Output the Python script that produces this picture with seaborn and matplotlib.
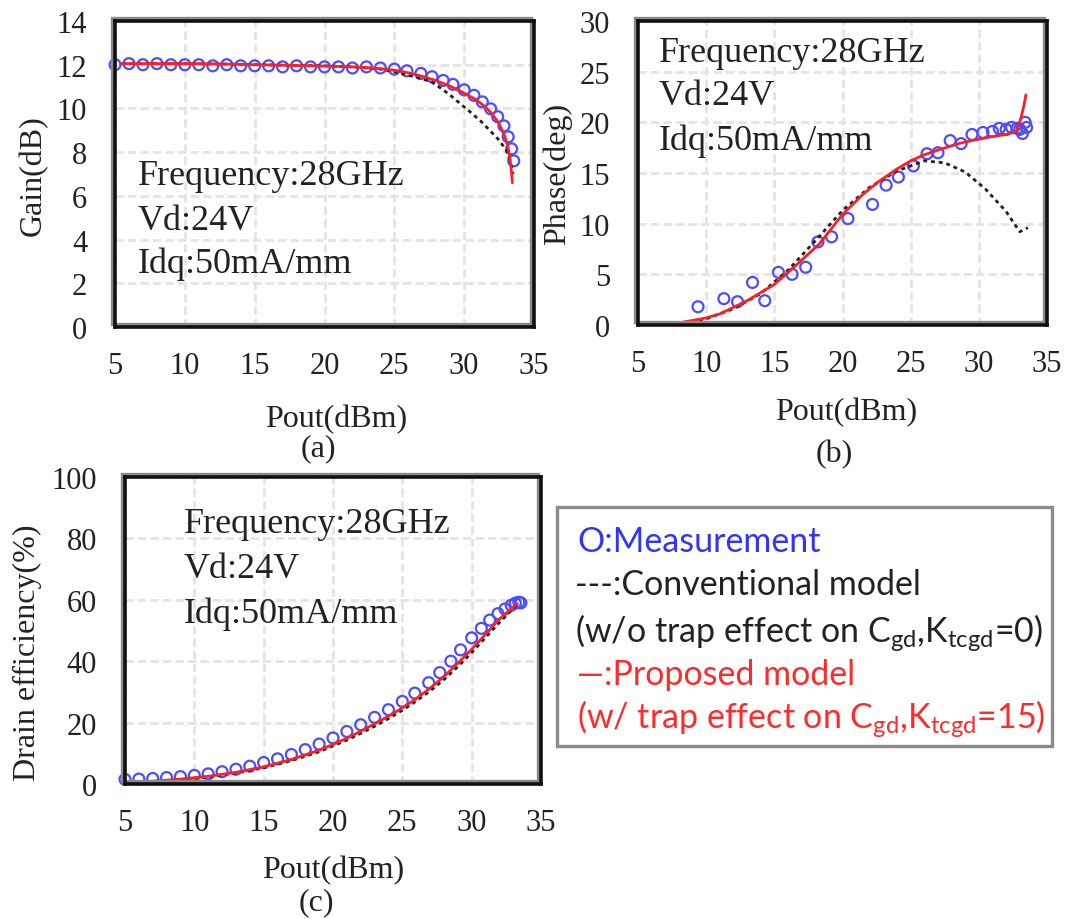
import numpy as np
import matplotlib
matplotlib.use("Agg")
import matplotlib.pyplot as plt
import matplotlib.transforms as mtransforms
from matplotlib.patches import Rectangle
import seaborn as sns

# ---------------- data ----------------
# Measured points (output power sweep, dBm)
meas_pout = [5.0, 6.0, 7.0, 8.0, 9.0, 10.0, 11.0, 12.0, 13.0, 14.0, 15.0, 16.0,
             17.0, 18.0, 19.0, 20.0, 21.0, 22.0, 23.0, 24.0, 25.0, 25.9, 26.9,
             27.7, 28.5, 29.2, 30.0, 30.7, 31.3, 31.9, 32.4, 32.85, 33.15, 33.4, 33.55]
meas_gain = [12.0, 12.05, 12.0, 12.05, 12.0, 12.0, 12.0, 11.95, 12.0, 11.95, 11.95,
             11.95, 11.9, 11.95, 11.9, 11.9, 11.9, 11.85, 11.9, 11.85, 11.8, 11.72,
             11.6, 11.45, 11.28, 11.1, 10.85, 10.6, 10.3, 9.98, 9.62, 9.2, 8.7, 8.15, 7.6]
meas_eff = [1.5, 1.6, 1.8, 2.1, 2.4, 2.8, 3.3, 4.0, 4.8, 5.8, 7.0, 8.2, 9.6, 11.2,
            13.0, 15.0, 17.1, 19.3, 21.7, 24.2, 26.9, 29.6, 33.0, 36.3, 40.0, 43.7,
            47.6, 50.7, 53.4, 55.5, 57.0, 58.2, 58.9, 59.2, 59.0]

phase_meas_pout = [9.4, 11.3, 12.3, 13.4, 14.3, 15.3, 16.3, 17.3, 18.2, 19.2, 20.4,
                   22.2, 23.2, 24.1, 25.2, 26.2, 27.0, 27.9, 28.7, 29.5, 30.3, 31.0,
                   31.5, 32.0, 32.4, 32.8, 33.0, 33.2, 33.4, 33.5]
phase_meas = [1.8, 2.6, 2.3, 4.2, 2.4, 5.2, 5.0, 5.7, 8.2, 8.7, 10.5, 11.9, 13.8,
              14.6, 15.7, 16.9, 17.0, 18.2, 17.9, 18.8, 19.0, 19.1, 19.4, 19.3,
              19.5, 19.4, 19.3, 18.9, 20.0, 19.5]

# Proposed model (w/ trap effect on Cgd)
prop_gain_pout = [5.5, 7, 9, 11, 13, 15, 17, 19, 21, 22, 23, 24, 25, 26, 27, 28, 29,
                  30, 30.8, 31.5, 32, 32.5, 32.9, 33.15, 33.3, 33.4, 33.45]
prop_gain = [12.05, 12.05, 12.05, 12.05, 12.03, 12.0, 11.98, 11.95, 11.92, 11.9,
             11.87, 11.82, 11.75, 11.63, 11.47, 11.27, 11.02, 10.7, 10.42, 10.08,
             9.75, 9.3, 8.75, 8.2, 7.6, 7.0, 6.6]
prop_phase_pout = [5.5, 8, 10, 11, 13, 15, 16.6, 18.3, 20, 21.5, 22.7, 24, 25, 26,
                   27.1, 28.5, 29.5, 31, 32, 32.8, 33.1, 33.3, 33.45]
prop_phase = [0.0, 0.2, 0.7, 1.1, 2.4, 4.0, 5.9, 8.0, 10.9, 12.9, 14.2, 15.4, 16.2,
              16.8, 17.3, 17.9, 18.2, 18.6, 18.8, 19.1, 20.5, 21.6, 22.7]
prop_eff_pout = [5.5, 7, 9, 11, 13, 15, 17, 19, 20, 21, 22, 23, 24, 25, 26, 27, 28,
                 29, 30, 31, 32, 32.6, 33.0, 33.3]
prop_eff = [0.5, 0.9, 1.6, 2.5, 3.8, 5.6, 8.0, 11.0, 12.9, 14.9, 17.2, 19.6, 22.1,
            24.8, 27.8, 31.2, 35.0, 39.3, 43.9, 48.8, 53.7, 56.1, 57.6, 58.6]

# Conventional model (w/o trap effect on Cgd)
conv_gain_pout = [5.5, 9, 13, 17, 20, 22, 24, 25, 26, 27, 27.7, 28.5, 29.2, 29.9,
                  30.6, 31.3, 31.9, 32.5, 33.0, 33.3, 33.5]
conv_gain = [12.05, 12.05, 12.03, 11.98, 11.95, 11.9, 11.8, 11.68, 11.52, 11.35,
             11.2, 10.85, 10.5, 10.12, 9.75, 9.35, 8.95, 8.55, 8.1, 7.6, 7.0]
conv_phase_pout = [5.5, 8, 10, 12, 14, 16, 18, 20, 22, 24, 26, 27.5, 29, 30.5, 32,
                   33.0, 33.6]
conv_phase = [0.0, 0.2, 0.6, 1.6, 3.1, 5.4, 8.3, 11.3, 13.6, 15.2, 16.2, 16.0,
              15.1, 13.4, 11.2, 9.2, 9.6]
conv_eff_pout = [5.5, 7, 9, 11, 13, 15, 17, 19, 20, 21, 22, 23, 24, 25, 26, 27, 28,
                 29, 30, 31, 32, 32.6, 33.0, 33.4]
conv_eff = [0.4, 0.8, 1.4, 2.3, 3.6, 5.3, 7.6, 10.5, 12.4, 14.3, 16.5, 18.8, 21.3,
            24.0, 27.0, 30.3, 34.0, 38.2, 42.8, 47.7, 52.6, 55.3, 57.3, 58.8]

x_ticks = [5, 10, 15, 20, 25, 30, 35]
cond_lines = ["Frequency:28GHz", "Vd:24V", "Idq:50mA/mm"]

# ---------------- style ----------------
sns.set_style("white")
plt.rcParams["font.family"] = ["Liberation Serif", "DejaVu Serif"]

W, H = 1069, 920
fig = plt.figure(figsize=(W / 100, H / 100), dpi=100)


def box(l, t, r, b):
    return [l / W, 1 - b / H, (r - l) / W, (b - t) / H]


def fx(px):
    return px / W


def fy(py):
    return 1 - py / H


BLUE = "#4d4dff"
RED = "#ff1f1f"
DARK = "#222222"


def style(ax, ymax, ystep):
    ax.set_xlim(5, 35)
    ax.set_ylim(0, ymax)
    ax.set_xticks(x_ticks)
    ax.set_yticks(list(range(0, ymax + 1, ystep)))
    ax.grid(True, color="#e4e4e4", lw=2.0, ls=(0, (3, 1.5)))
    ax.set_axisbelow(True)
    ax.tick_params(axis="both", length=0, labelsize=22, colors="#222222")
    ax.tick_params(axis="x", pad=17)
    ax.tick_params(axis="y", pad=20)
    ax.set_xlabel("")
    ax.set_ylabel("")
    for s in ax.spines.values():
        s.set_visible(True)
        s.set_color("#111111")
        s.set_linewidth(2.6)
        s.set_zorder(5)
    shadow_tr = mtransforms.offset_copy(ax.transAxes, fig=fig, x=-3, y=3, units="dots")
    ax.add_patch(Rectangle((0, 0), 1, 1, transform=shadow_tr, fill=False,
                           ec="#8a8a8a", lw=2.4, clip_on=False, zorder=4))


def draw(ax, mx, my, cx, cy, px, py):
    sns.scatterplot(x=mx, y=my, ax=ax, marker="o", s=62, facecolor="none",
                    edgecolor=BLUE, linewidth=1.6, zorder=3, clip_on=False)
    sns.lineplot(x=cx, y=cy, ax=ax, color=DARK, lw=2.0, linestyle=(0, (1.4, 1.4)),
                 sort=False, estimator=None, zorder=3.5)
    sns.lineplot(x=px, y=py, ax=ax, color=RED, lw=2.0, sort=False, estimator=None,
                 zorder=4)


ax_a = fig.add_axes(box(115, 22, 534, 328))
ax_b = fig.add_axes(box(638, 22, 1047, 326))
ax_c = fig.add_axes(box(125, 478, 541, 785))

draw(ax_a, meas_pout, meas_gain, conv_gain_pout, conv_gain, prop_gain_pout, prop_gain)
draw(ax_b, phase_meas_pout, phase_meas, conv_phase_pout, conv_phase,
     prop_phase_pout, prop_phase)
draw(ax_c, meas_pout, meas_eff, conv_eff_pout, conv_eff, prop_eff_pout, prop_eff)

style(ax_a, 14, 2)
style(ax_b, 30, 5)
style(ax_c, 100, 20)

# operating conditions inside each panel
for left, baselines in [(138, (185, 230, 273)), (659, (62, 105, 150)),
                        (184, (533, 578, 623))]:
    for line, b in zip(cond_lines, baselines):
        fig.text(fx(left), fy(b), line, fontsize=26, color="#222222",
                 ha="left", va="baseline")

# axis labels and panel captions
lab = dict(fontsize=23, color="#222222")
fig.text(fx(336), fy(427), "Pout(dBm)", ha="center", va="baseline", **lab)
fig.text(fx(318), fy(449), "(a)", ha="center", va="center", **lab)
fig.text(fx(846), fy(420), "Pout(dBm)", ha="center", va="baseline", **lab)
fig.text(fx(834), fy(455), "(b)", ha="center", va="center", **lab)
fig.text(fx(333), fy(878), "Pout(dBm)", ha="center", va="baseline", **lab)
fig.text(fx(316), fy(903), "(c)", ha="center", va="center", **lab)
fig.text(fx(33), fy(176), "Gain(dB)", rotation=90, ha="center", va="center", **lab)
fig.text(fx(557), fy(174), "Phase(deg)", rotation=90, ha="center", va="center", **lab)
fig.text(fx(27), fy(653), "Drain efficiency(%)", rotation=90, ha="center",
         va="center", **lab)

# legend box
fig.patches.append(Rectangle((fx(557), fy(747)), fx(1052) - fx(557), fy(508) - fy(747),
                             transform=fig.transFigure, fill=True, fc="white",
                             ec="#8a8a8a", lw=2.4, zorder=1))
leg = dict(fontsize=24.5, family=["Lato", "DejaVu Sans"], ha="left", va="baseline",
           zorder=2)
fig.text(fx(577), fy(552), "O:Measurement", color="#3333ff", **leg)
fig.text(fx(575), fy(595), "---:Conventional model", color="#222222", **leg)
fig.text(fx(575), fy(642),
         r"(w/o trap effect on C$_{\mathregular{gd}}$,K$_{\mathregular{tcgd}}$=0)",
         color="#222222", **leg)
fig.text(fx(577), fy(685), "\u2014:Proposed model", color="#ff2a2a", **leg)
fig.text(fx(577), fy(728),
         r"(w/ trap effect on C$_{\mathregular{gd}}$,K$_{\mathregular{tcgd}}$=15)",
         color="#ff2a2a", **leg)

fig.savefig("out.png", dpi=100, facecolor="white")
